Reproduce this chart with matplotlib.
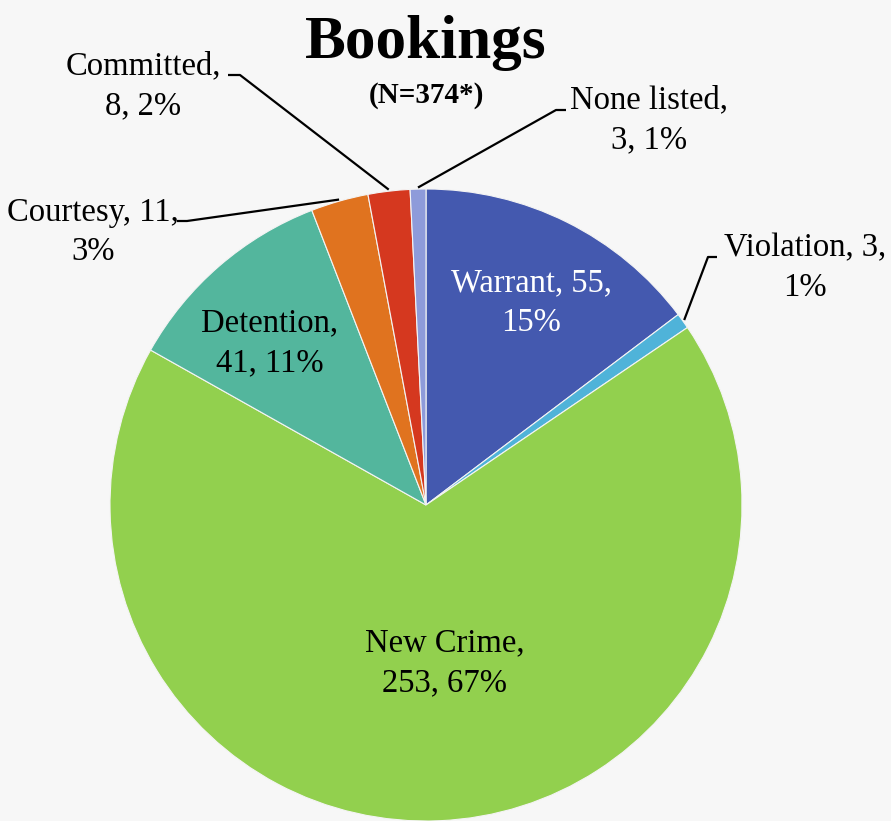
import numpy as np
import matplotlib.pyplot as plt

# booking categories, clockwise from 12 o'clock
categories = ['Warrant', 'Violation', 'New Crime', 'Detention',
              'Courtesy', 'Committed', 'None listed']
counts = [55, 3, 253, 41, 11, 8, 3]
percents = ['15%', '1%', '67%', '11%', '3%', '2%', '1%']
colors = ['#4459AF', '#4FB3D9', '#92D04E', '#53B69D',
          '#E0731F', '#D5381F', '#8E9BDA']

W, H = 891, 821
fig = plt.figure(figsize=(W / 100, H / 100), dpi=100)
fig.patch.set_facecolor('#F7F7F7')
ax = fig.add_axes([0, 0, 1, 1])
ax.set_aspect('equal')

plt.rcParams['font.family'] = ['Liberation Serif', 'DejaVu Serif']

cx, cy, r = 426, H - 505, 316
wedges, _ = ax.pie(counts, colors=colors, startangle=90, counterclock=False,
                   center=(cx, cy), radius=r, frame=True,
                   wedgeprops=dict(edgecolor='#F4F4F4', linewidth=0.8))
ax.set_xlim(0, W)
ax.set_ylim(0, H)
ax.axis('off')


def px(x, y):
    # pixel position measured from top-left of the image
    return x, H - y


def edge_point(w, frac=1.0):
    a = np.deg2rad((w.theta1 + w.theta2) / 2)
    return cx + r * frac * np.cos(a), cy + r * frac * np.sin(a)


fs = 23.5
ls = 1.38

# labels inside the pie
inside = {0: (531, 303, 'white'), 3: (270, 343, 'black'), 2: (445, 663, 'black')}
for i, (x, y, c) in inside.items():
    if i == 0:
        txt = '%s, %d,\n%s' % (categories[i], counts[i], percents[i])
    else:
        txt = '%s,\n%d, %s' % (categories[i], counts[i], percents[i])
    ax.text(*px(x, y), txt, ha='center', va='center', fontsize=fs,
            color=c, linespacing=ls)

# labels outside with leader lines: text pos, elbow start, elbow end
outside = {
    1: ('Violation, 3,\n1%', (805, 268), (717, 257), (708, 257)),
    4: ('Courtesy, 11,\n3%', (93, 232), (177, 221), (187, 221)),
    5: ('Committed,\n8, 2%', (143, 86), (228, 75), (240, 75)),
    6: ('None listed,\n3, 1%', (649, 120), (566, 110), (556, 110)),
}
for i, (txt, tpos, p0, p1) in outside.items():
    ax.text(*px(*tpos), txt, ha='center', va='center', fontsize=fs,
            color='black', linespacing=ls)
    ex, ey = edge_point(wedges[i], 1.005)
    ax.plot([px(*p0)[0], px(*p1)[0], ex], [px(*p0)[1], px(*p1)[1], ey],
            color='black', lw=1.6, solid_capstyle='butt')

ax.text(*px(426, 43), 'Bookings', ha='center', va='center',
        fontsize=44, fontweight='bold')
ax.text(*px(426, 95), '(N=374*)', ha='center', va='center',
        fontsize=21, fontweight='bold')

fig.savefig('out.png', dpi=100, facecolor=fig.get_facecolor())
